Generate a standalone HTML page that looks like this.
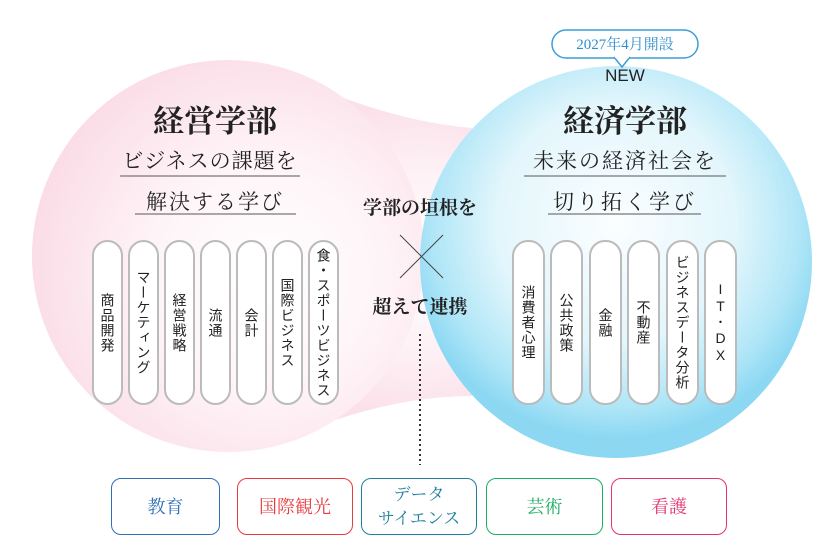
<!DOCTYPE html>
<html><head><meta charset="utf-8"><style>
body{margin:0;width:840px;height:560px;background:#fff;overflow:hidden;position:relative;font-family:"Liberation Serif","Noto Serif CJK SC",serif;}
.a{position:absolute;}
.t{position:absolute;text-align:center;color:#222;white-space:nowrap;}
.pill{position:absolute;top:240px;height:165px;border:2px solid #bbb;border-radius:16px;background:#fff;box-sizing:border-box;writing-mode:vertical-rl;text-orientation:upright;font-family:"Liberation Sans","Noto Sans CJK JP",sans-serif;font-size:14px;color:#222;display:flex;align-items:center;justify-content:center;letter-spacing:1px;}
.box{position:absolute;top:478px;height:57px;border:1.5px solid;border-radius:10px;box-sizing:border-box;display:flex;align-items:center;justify-content:center;text-align:center;font-size:18px;line-height:24px;background:#fff;}
</style></head><body>
<svg class="a" style="left:0;top:0" width="840" height="560">
<defs>
<radialGradient id="pk" cx="0.6" cy="0.55" r="0.6"><stop offset="0" stop-color="#fff"/><stop offset="0.5" stop-color="#fef4f7"/><stop offset="1" stop-color="#fbdde7"/></radialGradient>
<radialGradient id="nk" cx="420" cy="260" r="160" gradientUnits="userSpaceOnUse"><stop offset="0" stop-color="#fff"/><stop offset="0.6" stop-color="#fdf0f4"/><stop offset="1" stop-color="#fbe0ea"/></radialGradient>
<radialGradient id="bl" cx="0.5" cy="0.4" r="0.55"><stop offset="0" stop-color="#fbfeff"/><stop offset="0.55" stop-color="#e3f6fc"/><stop offset="0.85" stop-color="#b0e6f7"/><stop offset="1" stop-color="#8cd8f3"/></radialGradient>
</defs>
<path d="M318,88 Q400,122 472,128 L472,396 Q400,396 318,426 Z" fill="url(#nk)"/>
<circle cx="228" cy="256" r="196" fill="url(#pk)"/>
<circle cx="616" cy="262" r="196" fill="url(#bl)"/>
<line x1="400" y1="235" x2="443" y2="278" stroke="#444" stroke-width="1"/>
<line x1="443" y1="235" x2="400" y2="278" stroke="#444" stroke-width="1"/>
<line x1="420" y1="334" x2="420" y2="465" stroke="#333" stroke-width="2" stroke-dasharray="2,3"/>
<rect x="552" y="30" width="146" height="28" rx="14" fill="#fff" stroke="#3a9fd8" stroke-width="1.5"/>
<path d="M614,57 L622,67 L630,57" fill="#fff" stroke="#3a9fd8" stroke-width="1.5"/>
<line x1="615" y1="57" x2="629" y2="57" stroke="#fff" stroke-width="2"/>
<line x1="120" y1="176" x2="300" y2="176" stroke="#777" stroke-width="1.2"/>
<line x1="135" y1="214" x2="296" y2="214" stroke="#777" stroke-width="1.2"/>
<line x1="524" y1="176" x2="726" y2="176" stroke="#777" stroke-width="1.2"/>
<line x1="548" y1="214" x2="701" y2="214" stroke="#777" stroke-width="1.2"/>
</svg>
<div class="t" style="left:552px;top:33px;width:146px;font-size:15px;color:#2e8fcf;">2027年4月開設</div>
<div class="t" style="left:560px;top:66px;width:130px;font-family:'Liberation Sans',sans-serif;font-size:17px;">NEW</div>
<div class="t" style="left:115px;top:96px;width:200px;font-size:31px;font-weight:bold;">経営学部</div>
<div class="t" style="left:525px;top:96px;width:200px;font-size:31px;font-weight:bold;">経済学部</div>
<div class="t" style="left:110px;top:145px;width:200px;font-size:21px;letter-spacing:1px;">ビジネスの課題を</div>
<div class="t" style="left:115px;top:186px;width:200px;font-size:21px;letter-spacing:2px;">解決する学び</div>
<div class="t" style="left:515px;top:145px;width:220px;font-size:21px;letter-spacing:2px;">未来の経済社会を</div>
<div class="t" style="left:525px;top:186px;width:200px;font-size:21px;letter-spacing:3px;">切り拓く学び</div>
<div class="t" style="left:340px;top:193px;width:160px;font-size:19px;font-weight:bold;">学部の垣根を</div>
<div class="t" style="left:340px;top:292px;width:160px;font-size:19px;font-weight:bold;">超えて連携</div>
<div class="pill" style="left:92px;width:31px;">商品開発</div>
<div class="pill" style="left:128px;width:31px;">マーケティング</div>
<div class="pill" style="left:164px;width:31px;">経営戦略</div>
<div class="pill" style="left:200px;width:31px;">流通</div>
<div class="pill" style="left:236px;width:31px;">会計</div>
<div class="pill" style="left:272px;width:31px;">国際ビジネス</div>
<div class="pill" style="left:308px;width:31px;">食・スポーツビジネス</div>
<div class="pill" style="left:512px;width:33px;">消費者心理</div>
<div class="pill" style="left:550px;width:33px;">公共政策</div>
<div class="pill" style="left:589px;width:33px;">金融</div>
<div class="pill" style="left:627px;width:33px;">不動産</div>
<div class="pill" style="left:666px;width:33px;">ビジネスデータ分析</div>
<div class="pill" style="left:704px;width:33px;">IT･DX</div>
<div class="box" style="left:111px;width:109px;border-color:#2f6fb5;color:#2f6fb5;">教育</div>
<div class="box" style="left:237px;width:116px;border-color:#e83a3f;color:#e83a3f;">国際観光</div>
<div class="box" style="left:361px;width:116px;border-color:#1f7f9f;color:#1f7f9f;font-size:17px;">データ<br>サイエンス</div>
<div class="box" style="left:486px;width:117px;border-color:#1fae63;color:#1fae63;">芸術</div>
<div class="box" style="left:611px;width:116px;border-color:#e4336e;color:#e4336e;">看護</div>
</body></html>
